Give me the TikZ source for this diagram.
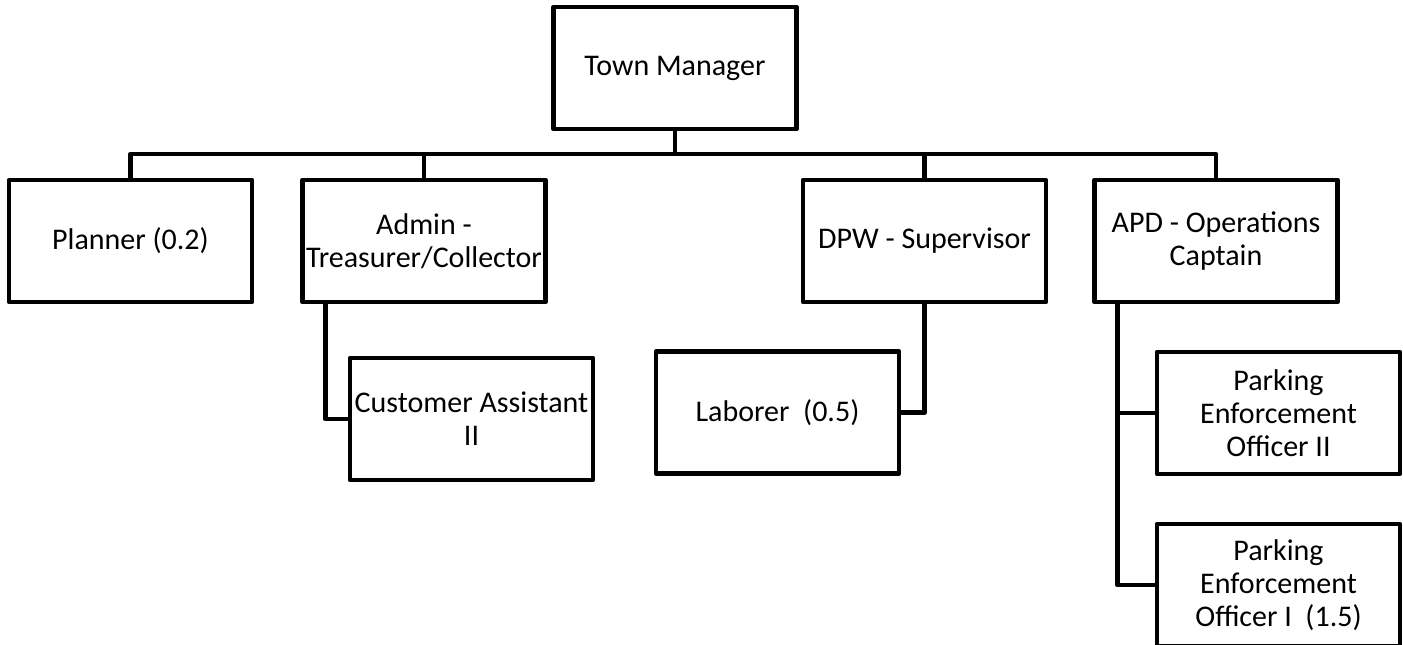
\documentclass[tikz,border=0pt]{standalone}
\usepackage{fontspec}
\setmainfont{Carlito}
\begin{document}
\begin{tikzpicture}[x=1pt,y=-1pt,
		post/.style={draw,line width=4.5pt,line join=round,minimum width=243pt,minimum height=122pt,inner sep=0pt,align=center,font=\fontsize{30pt}{33pt}\selectfont},
		link/.style={line width=4.5pt,line join=round}]
		\useasboundingbox (0,0) rectangle (1403,645);
		\node[post] (tm) at (675,68) {Town Manager};
		\node[post] (planner) at (130.5,241) {Planner (0.2)};
		\node[post] (admin) at (424,241) {Admin -\\Treasurer/Collector};
		\node[post] (dpw) at (924.5,241) {DPW - Supervisor};
		\node[post] (apd) at (1216,241) {APD - Operations\\Captain};
		\node[post] (cust) at (471.5,419) {Customer Assistant\\II};
		\node[post] (lab) at (777.5,412.5) {Laborer~~(0.5)};
		\node[post] (peo2) at (1278.5,413) {Parking\\Enforcement\\Officer II};
		\node[post] (peo1) at (1278.5,585) {Parking\\Enforcement\\Officer I~~(1.5)};
		\coordinate (bus) at (675,154);
		\coordinate (adminleg) at ([xshift=25pt]admin.south west);
		\coordinate (apdleg) at ([xshift=25pt]apd.south west);
		\draw[link] (tm.south) -- (bus);
		\draw[link] (planner.north) |- (bus) -| (apd.north);
		\foreach \n in {admin,dpw}
		\draw[link] (\n.north) -- (\n.north |- bus);
		\draw[link] (adminleg) |- (cust.west);
		\draw[link] (dpw.south) |- (lab.east);
		\draw[link] (apdleg) |- (peo1.west);
		\draw[link] (apdleg |- peo2.west) -- (peo2.west);
\end{tikzpicture}
\end{document}
